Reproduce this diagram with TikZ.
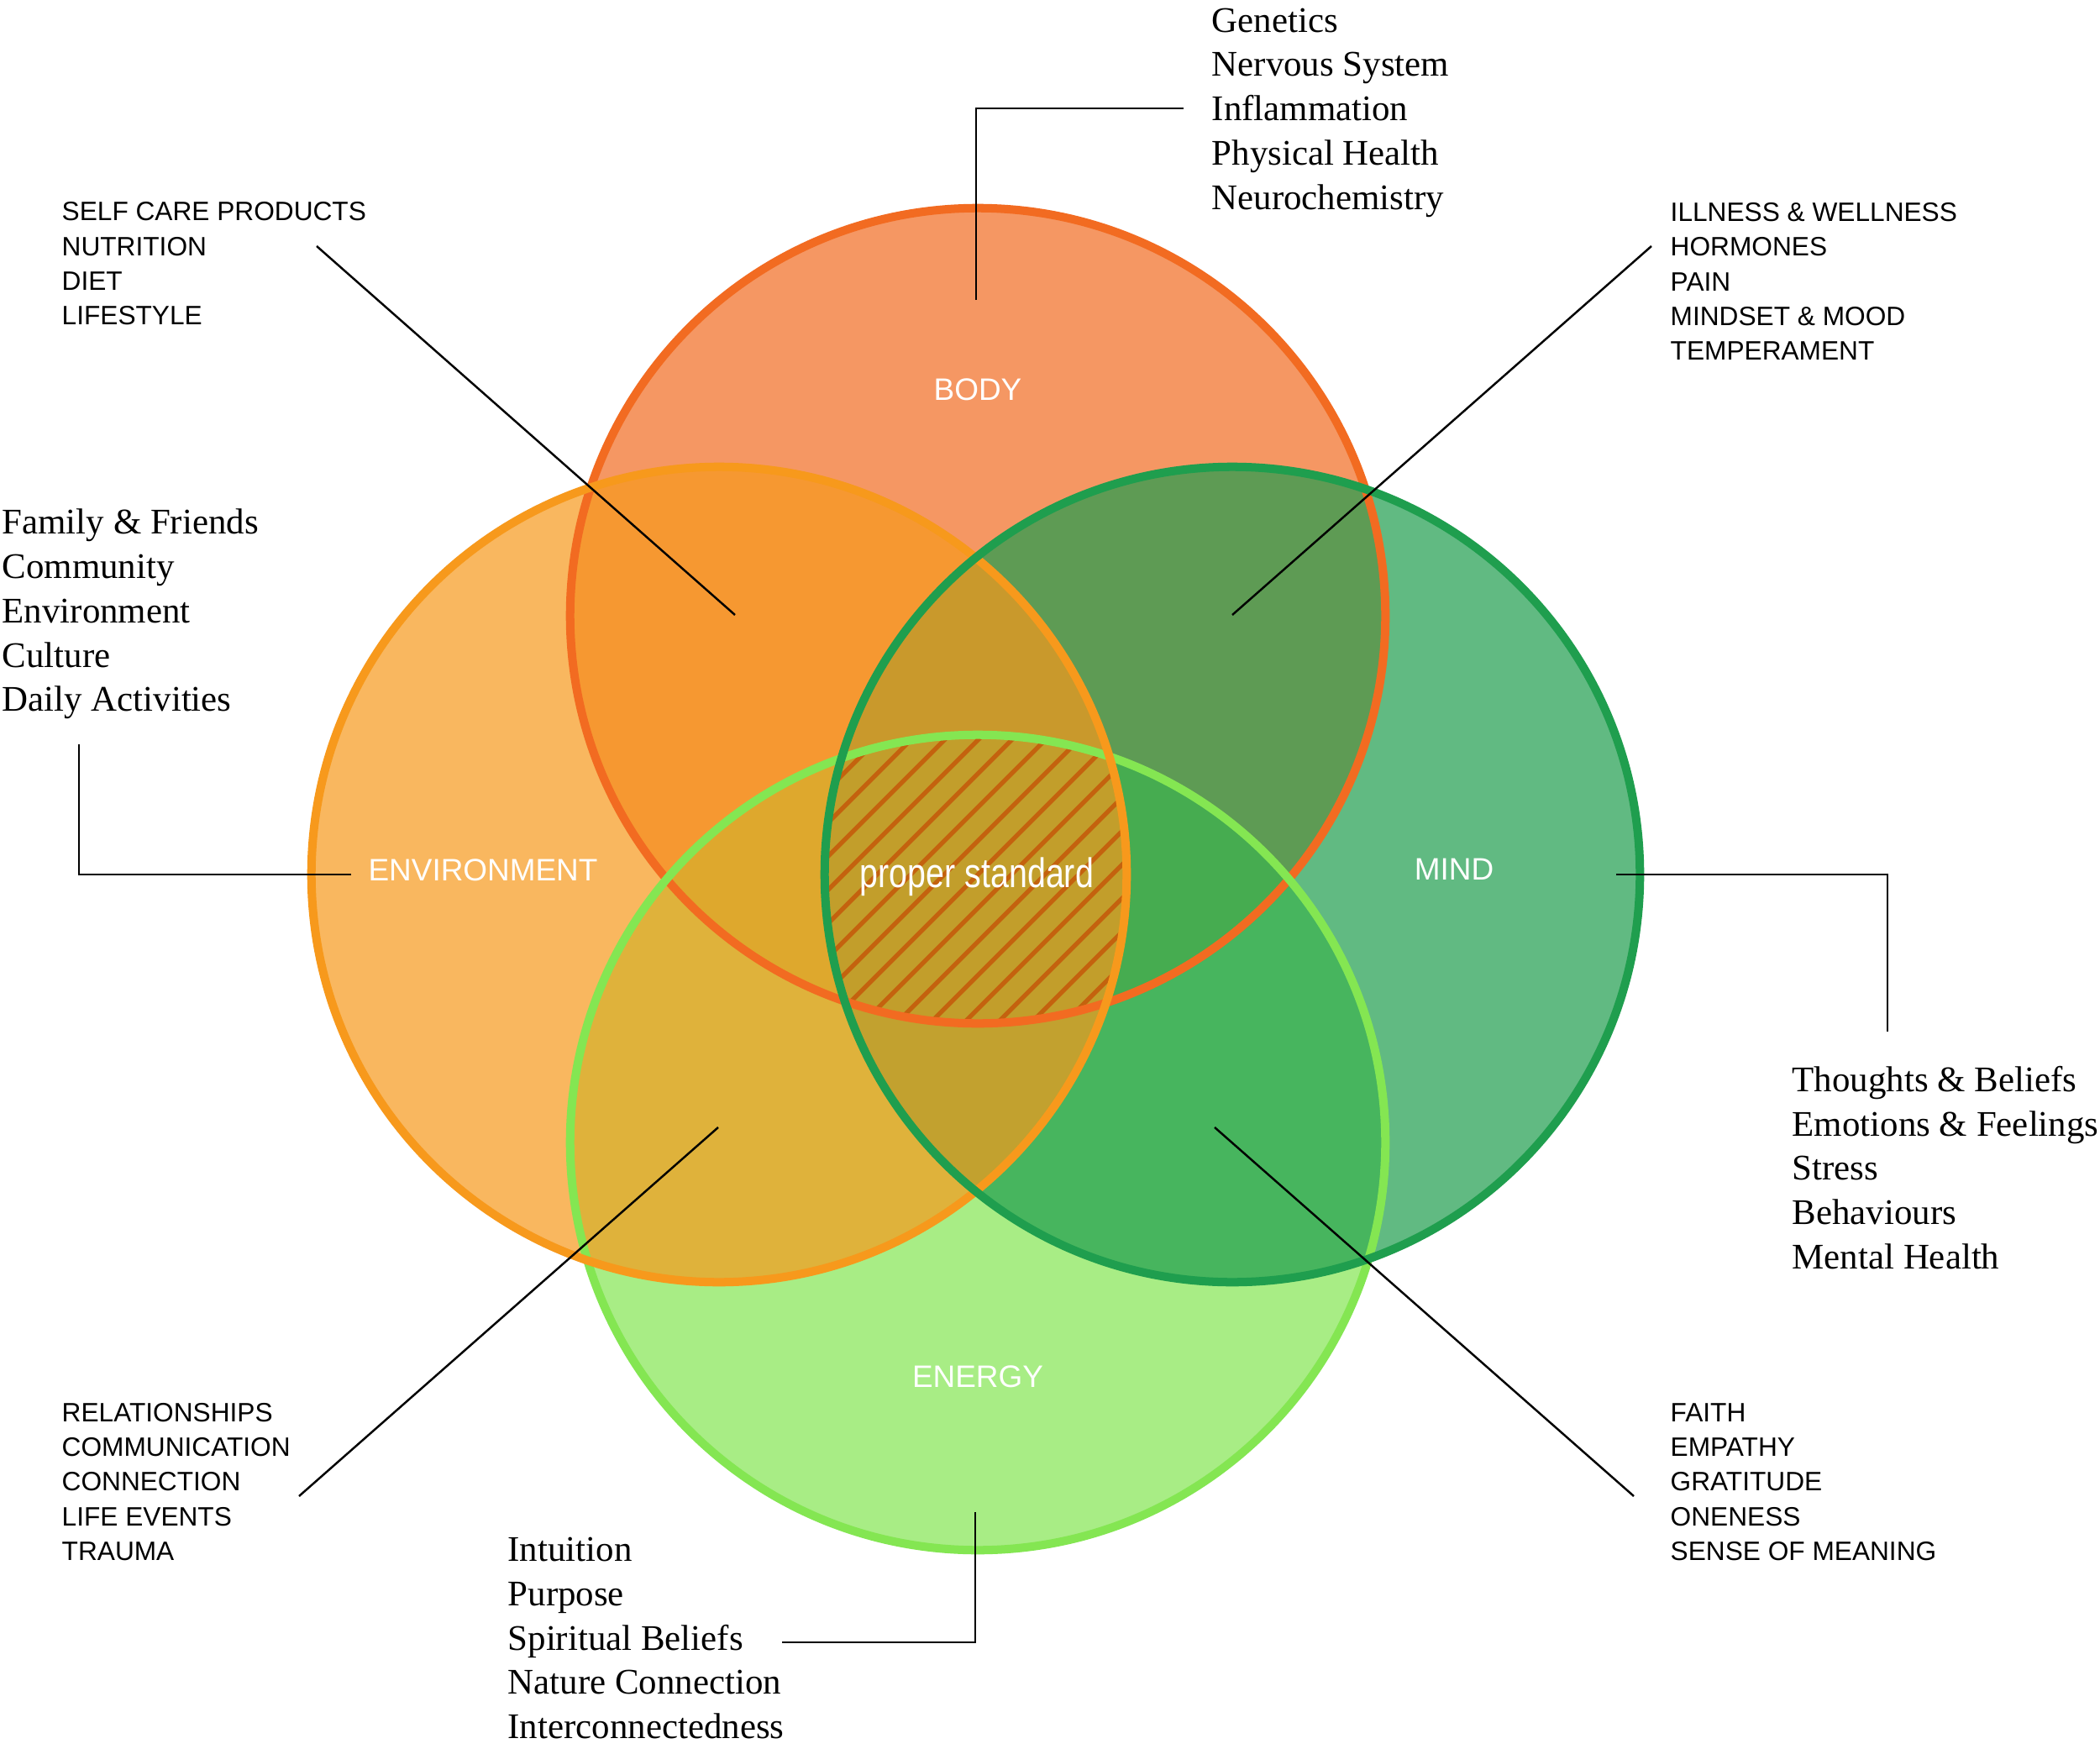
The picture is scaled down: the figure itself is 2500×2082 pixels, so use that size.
\documentclass[tikz,border=0pt]{standalone}
\usepackage{fontspec}
\usepackage{graphicx}
\setmainfont{Liberation Serif}
\setsansfont{Liberation Sans}
\definecolor{bodyc}{HTML}{F26B21}
\definecolor{envc}{HTML}{F7991C}
\definecolor{mindc}{HTML}{1F9E4E}
\definecolor{energyc}{HTML}{84E652}
\definecolor{stripec}{HTML}{C4620E}
\begin{document}
\begin{tikzpicture}[x=0.01cm, y=-0.01cm,
    ring/.style={line width=2.85pt},
    wash/.style={fill opacity=0.7},
    tag/.style={font=\sffamily\fontsize{10.5}{12}\selectfont, text=white, inner sep=0pt},
    biglist/.style={font=\fontsize{12.2}{15}\selectfont, align=left, anchor=west, inner sep=0pt},
    smalllist/.style={font=\sffamily\fontsize{9}{11.75}\selectfont, align=left, anchor=west, inner sep=0pt},
    leader/.style={black, line width=0.7pt}]
    \useasboundingbox (0,0) rectangle (2500,2082);
    \fill[white] (0,0) rectangle (2500,2082);
    \coordinate (cb) at (1164,733);
    \coordinate (cn) at (1164,1360);
    \coordinate (ce) at (856,1041);
    \coordinate (cm) at (1467,1041);
    \def\rad{4.85cm}
    % washes, then the shared core, then the rims
    \fill[bodyc, wash] (cb) circle[radius=\rad];
    \fill[energyc, wash] (cn) circle[radius=\rad];
    \fill[mindc, wash] (cm) circle[radius=\rad];
    \fill[envc, wash] (ce) circle[radius=\rad];
    \begin{scope}
        \clip (cb) circle[radius=\rad];
        \clip (cn) circle[radius=\rad];
        \clip (ce) circle[radius=\rad];
        \clip (cm) circle[radius=\rad];
        \foreach \k in {-440,-400,...,440}
            \draw[stripec, line width=1.5pt] (764+\k,1441) -- (1564+\k,641);
    \end{scope}
    \draw[ring, bodyc] (cb) circle[radius=\rad];
    \draw[ring, energyc] (cn) circle[radius=\rad];
    \draw[ring, envc] (ce) circle[radius=\rad];
    \draw[ring, mindc] (cm) circle[radius=\rad];

    \node[tag] (bodytag) at (1164,464) {BODY};
    \node[tag] (envtag) at (575,1036) {ENVIRONMENT};
    \node[tag] (mindtag) at (1731,1035) {MIND};
    \node[tag] (energytag) at (1164,1639) {ENERGY};
    \node[text=white, inner sep=0pt, font=\sffamily\fontsize{14}{16}\selectfont] (core) at (1163,1044) {\scalebox{0.8}[1]{proper standard}};

    \node[biglist] (bodylist) at (1442,134) {Genetics\\Nervous System\\Inflammation\\Physical Health\\Neurochemistry};
    \node[biglist] (envlist) at (2,731) {Family \& Friends\\Community\\Environment\\Culture\\Daily Activities};
    \node[biglist] (mindlist) at (2133,1390) {Thoughts \& Beliefs\\Emotions \& Feelings\\Stress\\Behaviours\\Mental Health};
    \node[biglist] (energylist) at (604,1950) {Intuition\\Purpose\\Spiritual Beliefs\\Nature Connection\\Interconnectedness};
    \node[smalllist] (bodyenvlist) at (73,314) {SELF CARE PRODUCTS\\NUTRITION\\DIET\\LIFESTYLE};
    \node[smalllist] (bodymindlist) at (1988,335) {ILLNESS \& WELLNESS\\HORMONES\\PAIN\\MINDSET \& MOOD\\TEMPERAMENT};
    \node[smalllist] (envenergylist) at (73,1764) {RELATIONSHIPS\\COMMUNICATION\\CONNECTION\\LIFE EVENTS\\TRAUMA};
    \node[smalllist] (mindenergylist) at (1988,1764) {FAITH\\EMPATHY\\GRATITUDE\\ONENESS\\SENSE OF MEANING};

    \coordinate (bodyspot) at (1162,357);
    \coordinate (bodytip) at (1409,129);
    \coordinate (envfoot) at (94,886);
    \coordinate (envtip) at (418,1041);
    \coordinate (mindtip) at (1924,1041);
    \coordinate (mindfoot) at (2247,1228);
    \coordinate (energyspot) at (1161,1800);
    \coordinate (energytip) at (931,1955);
    \coordinate (bodyenvtip) at (377,293);
    \coordinate (bodyenvspot) at (875,732);
    \coordinate (bodymindtip) at (1966,293);
    \coordinate (bodymindspot) at (1467,732);
    \coordinate (envenergytip) at (356,1781);
    \coordinate (envenergyspot) at (855,1342);
    \coordinate (mindenergytip) at (1945,1781);
    \coordinate (mindenergyspot) at (1446,1342);

    \draw[leader] (bodyspot) |- (bodytip);
    \draw[leader] (envfoot) |- (envtip);
    \draw[leader] (mindtip) -| (mindfoot);
    \draw[leader] (energyspot) |- (energytip);
    \draw[leader] (bodyenvtip) -- (bodyenvspot);
    \draw[leader] (bodymindtip) -- (bodymindspot);
    \draw[leader] (envenergytip) -- (envenergyspot);
    \draw[leader] (mindenergytip) -- (mindenergyspot);
\end{tikzpicture}
\end{document}
